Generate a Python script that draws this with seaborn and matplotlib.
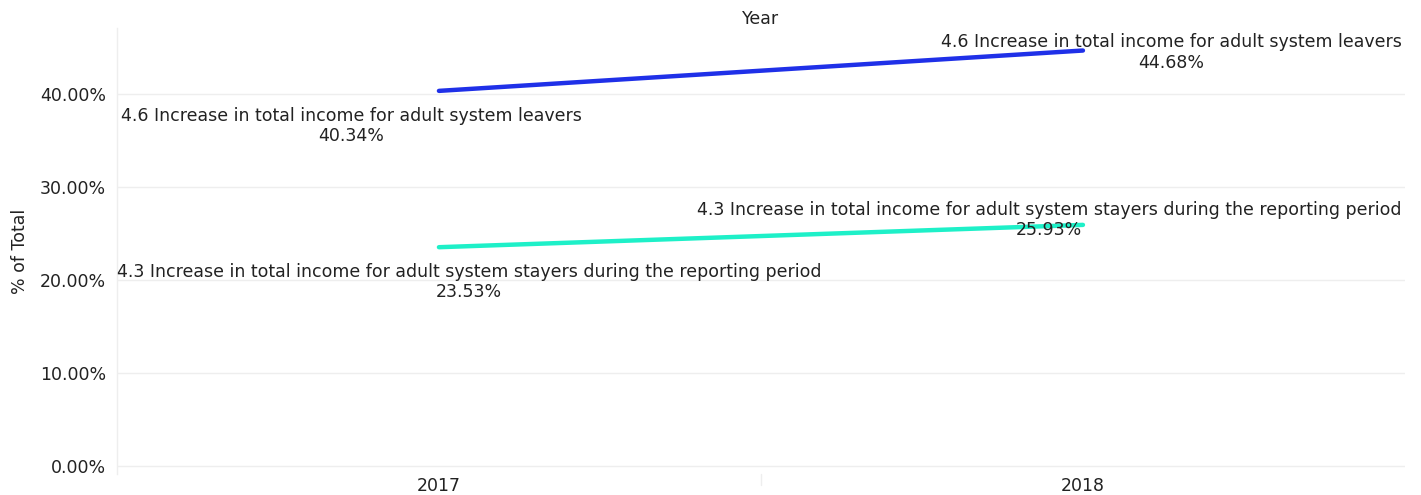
import pandas as pd
import matplotlib.pyplot as plt
import seaborn as sns

# --- data ---
years = [2017, 2018]
leavers_label = "4.6 Increase in total income for adult system leavers"
stayers_label = "4.3 Increase in total income for adult system stayers during the reporting period"
leavers_pct = [40.34, 44.68]
stayers_pct = [23.53, 25.93]
y_ticks = [0, 10, 20, 30, 40]

df = pd.DataFrame({
    "Year": years * 2,
    "pct": leavers_pct + stayers_pct,
    "series": [leavers_label] * 2 + [stayers_label] * 2,
})

sns.set_theme(style="white")
plt.rcParams["font.family"] = ["DejaVu Sans"]
text_col = "#222222"
grid_col = "#eeeeee"
fs = 12.5

fig = plt.figure(figsize=(14.21, 4.95), dpi=100)
ax = fig.add_axes([0.0823, 0.0424, 0.9064, 0.901])

palette = {leavers_label: "#1f30e8", stayers_label: "#1ef0c8"}
sns.lineplot(data=df, x="Year", y="pct", hue="series", palette=palette,
             linewidth=3.2, legend=False, ax=ax, solid_capstyle="round")

ax.set_xlim(2016.5, 2018.5)
ax.set_ylim(-0.86, 47.1)
ax.set_yticks(y_ticks)
ax.set_yticklabels([f"{v:.2f}%" for v in y_ticks])
ax.set_xticks(years)
ax.set_xticklabels([str(y) for y in years])
ax.tick_params(axis="both", labelsize=fs, colors=text_col, length=0)
ax.tick_params(axis="y", pad=8)
ax.tick_params(axis="x", pad=2)
ax.yaxis.grid(True, color=grid_col, linewidth=1)
ax.set_axisbelow(True)
for s in ["top", "right", "bottom"]:
    ax.spines[s].set_visible(False)
ax.spines["left"].set_color(grid_col)
ax.spines["left"].set_linewidth(1)
# small tick between the years, as in the reference
ax.plot([2017.5, 2017.5], [-0.86, -2.0], color=grid_col, lw=1, clip_on=False)

ax.set_xlabel("Year", fontsize=fs, color=text_col)
ax.xaxis.set_label_position("top")
ax.xaxis.labelpad = 3
ax.set_ylabel("% of Total", fontsize=fs, color=text_col, labelpad=8)

# point labels (offsets in pixels from each point)
offsets = {
    (leavers_label, 0): (-88, -35),
    (leavers_label, 1): (88, -2),
    (stayers_label, 0): (30, -35),
    (stayers_label, 1): (-34, 5),
}
for label, vals in [(leavers_label, leavers_pct), (stayers_label, stayers_pct)]:
    for i, (yr, v) in enumerate(zip(years, vals)):
        ax.annotate(f"{label}\n{v:.2f}%", xy=(yr, v), xytext=offsets[(label, i)],
                    textcoords="offset pixels", ha="center", va="center",
                    multialignment="center", fontsize=fs, color=text_col,
                    linespacing=1.15, annotation_clip=False)

fig.savefig("out.png", dpi=100)
